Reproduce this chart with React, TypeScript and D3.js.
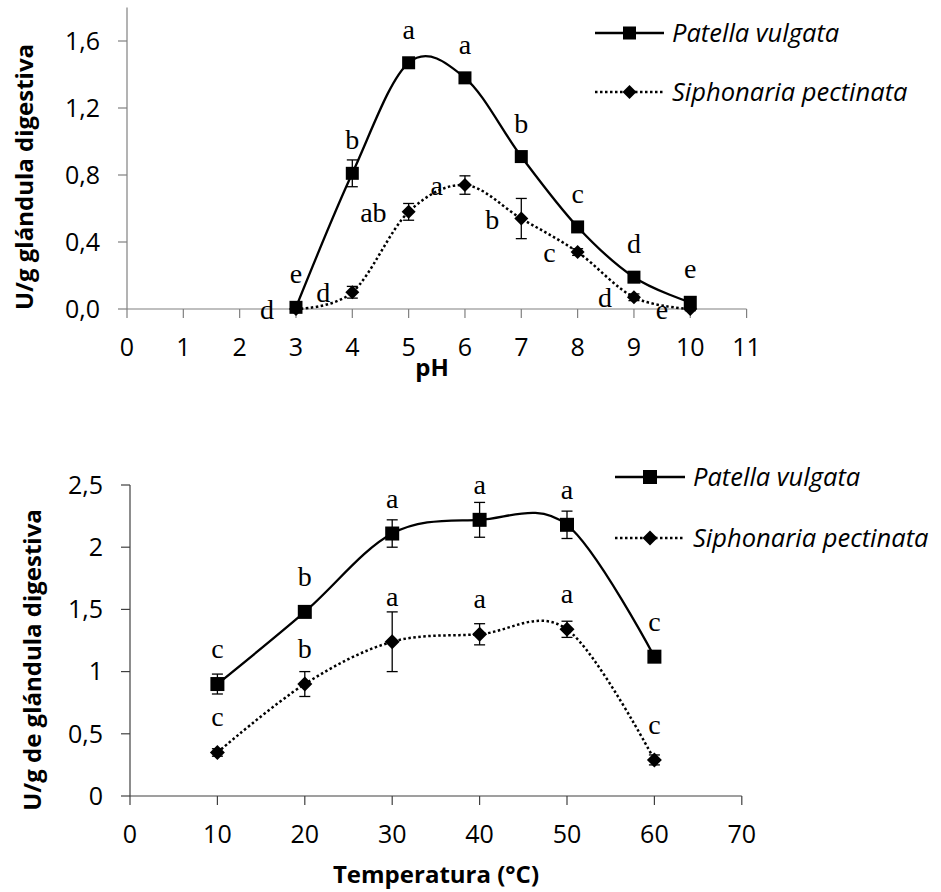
import * as d3 from 'd3';
import React from 'react';

// pH panel
const phLevels = [3, 4, 5, 6, 7, 8, 9, 10];
const phPatella = [0.01, 0.81, 1.47, 1.38, 0.91, 0.49, 0.19, 0.04];
const phPatellaErr = [0.01, 0.08, 0.02, 0.02, 0.02, 0.02, 0.02, 0.02];
const phPatellaLetters = ['e', 'b', 'a', 'a', 'b', 'c', 'd', 'e'];
const phSiphonaria = [0.0, 0.1, 0.58, 0.74, 0.54, 0.34, 0.07, 0.0];
const phSiphonariaErr = [0.01, 0.035, 0.05, 0.055, 0.12, 0.02, 0.02, 0.01];
const phSiphonariaLetters = ['d', 'd', 'ab', 'a', 'b', 'c', 'd', 'e'];
const phXTicks = [0, 1, 2, 3, 4, 5, 6, 7, 8, 9, 10, 11];
const phYTicks = [0, 0.4, 0.8, 1.2, 1.6];

// temperature panel
const temps = [10, 20, 30, 40, 50, 60];
const tPatella = [0.9, 1.48, 2.11, 2.22, 2.18, 1.12];
const tPatellaErr = [0.08, 0.03, 0.11, 0.14, 0.11, 0.03];
const tPatellaLetters = ['c', 'b', 'a', 'a', 'a', 'c'];
const tSiphonaria = [0.35, 0.9, 1.24, 1.3, 1.34, 0.29];
const tSiphonariaErr = [0.03, 0.1, 0.24, 0.085, 0.065, 0.04];
const tSiphonariaLetters = ['c', 'b', 'a', 'a', 'a', 'c'];
const tXTicks = [0, 10, 20, 30, 40, 50, 60, 70];
const tYTicks = [0, 0.5, 1, 1.5, 2, 2.5];

const speciesNames = ['Patella vulgata', 'Siphonaria pectinata'];

const SANS = "'Open Sans', 'Noto Sans', sans-serif";
const SERIF = "'Liberation Serif', serif";

const commaFmt = (f: (n: number) => string) => (n: number) => f(n).replace('.', ',');

function Marker({ kind, x, y, size }: { kind: string; x: number; y: number; size: number }) {
  if (kind === 'square') {
    return <rect x={x - size / 2} y={y - size / 2} width={size} height={size} fill="#000" />;
  }
  const h = size / 2 + 0.5;
  return <path d={`M${x},${y - h}L${x + h},${y}L${x},${y + h}L${x - h},${y}Z`} fill="#000" />;
}

function Panel(props: any) {
  const {
    xs, pat, patErr, patLet, sip, sipErr, sipLet,
    xDomain, xRange, yDomain, yRange, xTicks, yTicks, fmt,
    xTitle, xTitlePos, yTitle, yTitlePos, legend, axisColor, markSize, sipLeft,
  } = props;

  const x = d3.scaleLinear().domain(xDomain).range(xRange);
  const y = d3.scaleLinear().domain(yDomain).range(yRange);
  const x0 = x(xDomain[0]);
  const y0 = y(yDomain[0]);

  const line = d3.line<number>()
    .x((_, i) => x(xs[i]))
    .y(d => y(d))
    .curve(d3.curveCatmullRom.alpha(0));

  const errBars = (vals: number[], errs: number[]) =>
    vals.map((v, i) => {
      const cx = x(xs[i]);
      const top = y(v + errs[i]);
      const bot = y(Math.max(v - errs[i], yDomain[0] - 0.05));
      return (
        <g key={i} stroke="#000" strokeWidth={1.3}>
          <line x1={cx} x2={cx} y1={top} y2={bot} />
          <line x1={cx - 5.5} x2={cx + 5.5} y1={top} y2={top} />
          <line x1={cx - 5.5} x2={cx + 5.5} y1={bot} y2={bot} />
        </g>
      );
    });

  const aboveLetters = (vals: number[], errs: number[], lets: string[], off: number) =>
    vals.map((v, i) => (
      <text key={i} x={x(xs[i])} y={Math.min(y(v) - off, y(v + errs[i]) - 6)}
        textAnchor="middle" fontFamily={SERIF} fontSize={28}>{lets[i]}</text>
    ));

  return (
    <g>
      {/* axes */}
      <g stroke={axisColor} strokeWidth={1.2}>
        <line x1={x0} x2={x0} y1={y0} y2={y(yDomain[1])} />
        <line x1={x0} x2={x(xDomain[1])} y1={y0} y2={y0} />
        {yTicks.map((t: number) => (
          <line key={'yt' + t} x1={x0 - 9} x2={x0} y1={y(t)} y2={y(t)} />
        ))}
        {xTicks.map((t: number) => (
          <line key={'xt' + t} x1={x(t)} x2={x(t)} y1={y0} y2={y0 + 9} />
        ))}
      </g>
      {yTicks.map((t: number) => (
        <text key={'yl' + t} x={x0 - 27} y={y(t)} dy="0.35em" textAnchor="end"
          fontFamily={SANS} fontSize={25}>{fmt(t)}</text>
      ))}
      {xTicks.map((t: number) => (
        <text key={'xl' + t} x={x(t)} y={y0 + 38} dy="0.35em" textAnchor="middle"
          fontFamily={SANS} fontSize={25}>{t}</text>
      ))}
      <text x={xTitlePos[0]} y={xTitlePos[1]} dy="0.35em" textAnchor="middle"
        fontFamily={SANS} fontWeight="bold" fontSize={24}>{xTitle}</text>
      <text transform={`translate(${yTitlePos[0]},${yTitlePos[1]}) rotate(-90)`} dy="0.35em"
        textAnchor="middle" fontFamily={SANS} fontWeight="bold" fontSize={24}>{yTitle}</text>

      {/* series */}
      <path d={line(pat) || ''} fill="none" stroke="#000" strokeWidth={2.3} />
      <path d={line(sip) || ''} fill="none" stroke="#000" strokeWidth={2.5} strokeDasharray="2.5 2.5" />
      {errBars(pat, patErr)}
      {errBars(sip, sipErr)}
      {pat.map((v: number, i: number) => <Marker key={'p' + i} kind="square" x={x(xs[i])} y={y(v)} size={markSize} />)}
      {sip.map((v: number, i: number) => <Marker key={'s' + i} kind="diamond" x={x(xs[i])} y={y(v)} size={markSize} />)}

      {/* significance letters */}
      {aboveLetters(pat, patErr, patLet, sipLeft ? 24 : 26)}
      {sipLeft
        ? sip.map((v: number, i: number) => (
          <text key={'sl' + i} x={x(xs[i]) - 22} y={y(v) + 10} textAnchor="end"
            fontFamily={SERIF} fontSize={28}>{sipLet[i]}</text>
        ))
        : aboveLetters(sip, sipErr, sipLet, 26)}

      {/* legend */}
      {speciesNames.map((name, i) => {
        const ly = legend.y[i];
        return (
          <g key={name}>
            <line x1={legend.x1} x2={legend.x2} y1={ly} y2={ly} stroke="#000"
              strokeWidth={i === 0 ? 2.3 : 2.5} strokeDasharray={i === 0 ? undefined : '2.5 2.5'} />
            <Marker kind={i === 0 ? 'square' : 'diamond'} x={(legend.x1 + legend.x2) / 2} y={ly} size={markSize} />
            <text x={legend.tx} y={ly} dy="0.35em" fontFamily={SANS} fontStyle="italic" fontSize={25.5}>{name}</text>
          </g>
        );
      })}
    </g>
  );
}

export default function App() {
  return (
    <svg width={941} height={892} style={{ position: 'absolute', left: 0, top: 0, background: '#fff' }}>
      <Panel
        xs={phLevels} pat={phPatella} patErr={phPatellaErr} patLet={phPatellaLetters}
        sip={phSiphonaria} sipErr={phSiphonariaErr} sipLet={phSiphonariaLetters}
        xDomain={[0, 11]} xRange={[127, 746.6]} yDomain={[0, 1.8]} yRange={[309, 7.5]}
        xTicks={phXTicks} yTicks={phYTicks} fmt={commaFmt(d3.format('.1f'))}
        xTitle="pH" xTitlePos={[432, 368]} yTitle="U/g glándula digestiva" yTitlePos={[25, 177]}
        legend={{ x1: 595, x2: 664, tx: 672, y: [33, 92] }} axisColor="#808080" markSize={13} sipLeft
      />
      <Panel
        xs={temps} pat={tPatella} patErr={tPatellaErr} patLet={tPatellaLetters}
        sip={tSiphonaria} sipErr={tSiphonariaErr} sipLet={tSiphonariaLetters}
        xDomain={[0, 70]} xRange={[130, 741.8]} yDomain={[0, 2.5]} yRange={[796, 485]}
        xTicks={tXTicks} yTicks={tYTicks} fmt={commaFmt(d3.format('~g'))}
        xTitle="Temperatura (°C)" xTitlePos={[436, 875]} yTitle="U/g de glándula digestiva" yTitlePos={[33, 660]}
        legend={{ x1: 615, x2: 685, tx: 693, y: [477, 538] }} axisColor="#404040" markSize={14} sipLeft={false}
      />
    </svg>
  );
}
